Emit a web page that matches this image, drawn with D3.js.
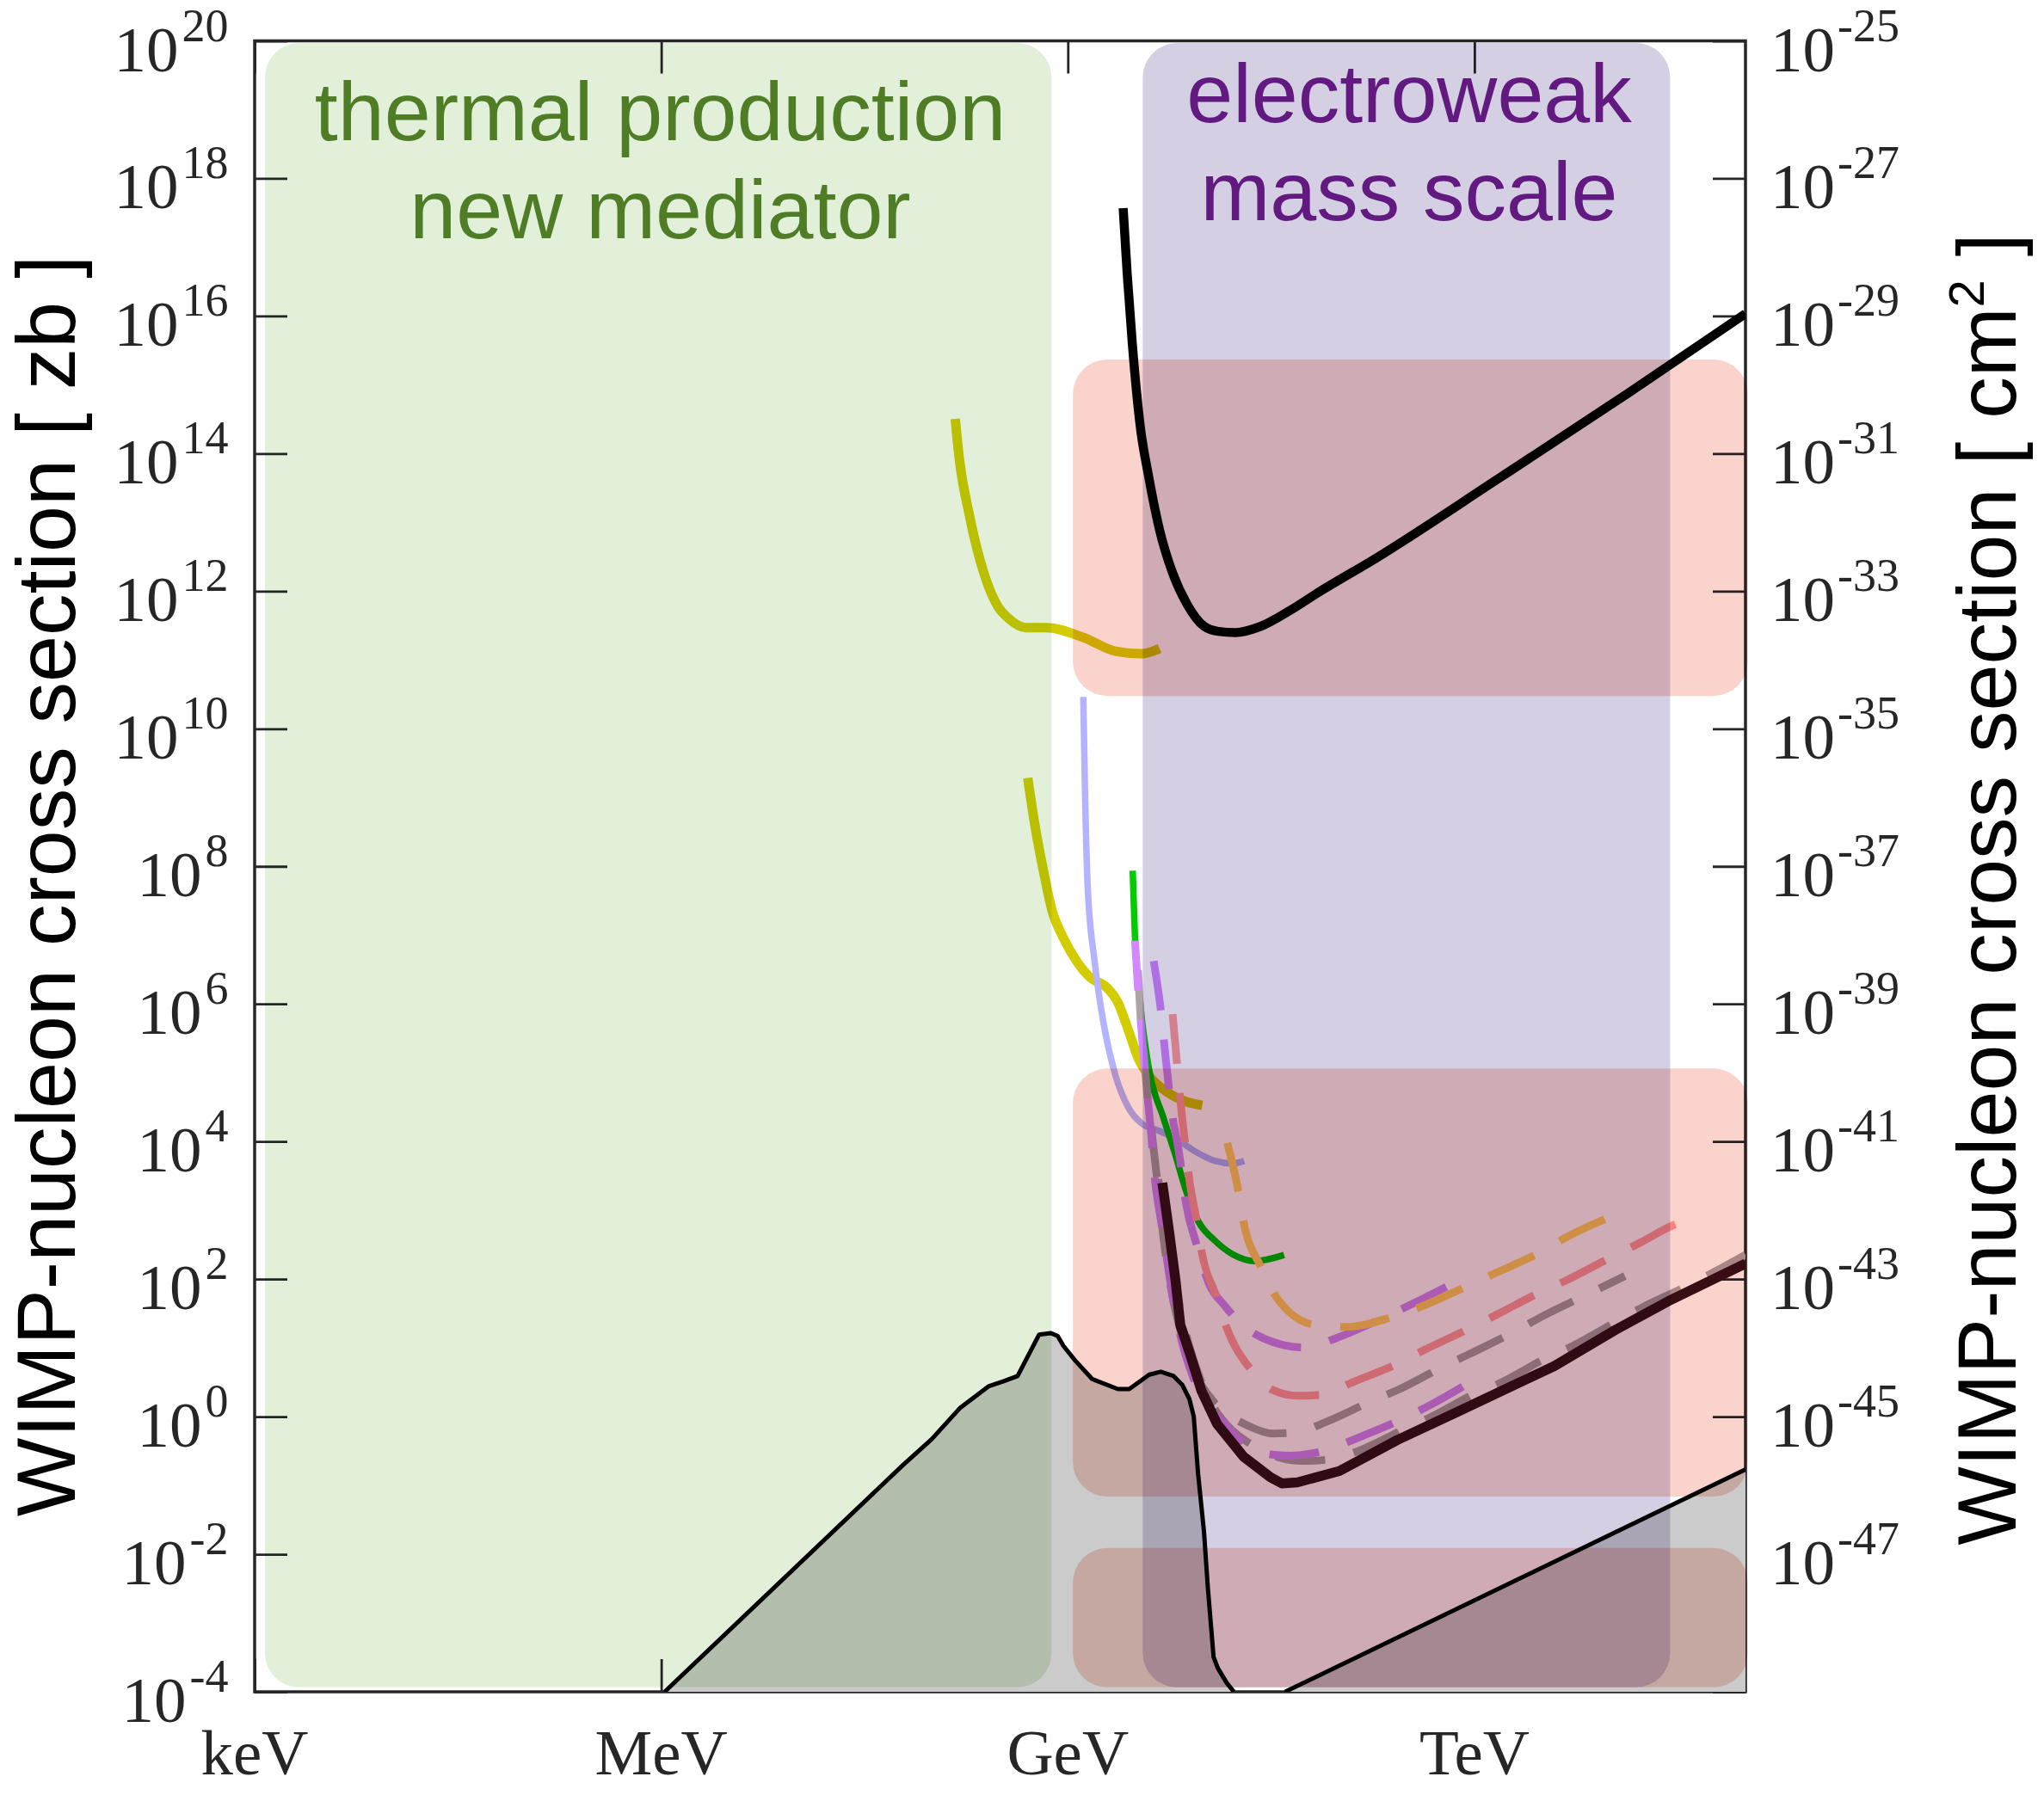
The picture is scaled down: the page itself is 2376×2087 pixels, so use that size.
<!DOCTYPE html>
<html>
<head>
<meta charset="utf-8">
<script src="https://cdn.jsdelivr.net/npm/d3@7"></script>
<style>
  html, body { margin: 0; padding: 0; background: #fff; }
  svg { display: block; }
</style>
</head>
<body>
<svg id="chart" width="2376" height="2087"></svg>
<script>
// ---------------- axes ----------------
const massDomain = [1e-6, 1e5];            // GeV (keV ... 100 TeV)
const sigmaDomainZb = [1e-4, 1e20];        // zeptobarn
const sigmaDomainCm = [1e-49, 1e-25];      // cm^2 (1 zb = 1e-45 cm^2)

const xTickValues = [1e-6, 1e-3, 1, 1e3];
const xTickLabels = ["keV", "MeV", "GeV", "TeV"];
const leftExponents = [20, 18, 16, 14, 12, 10, 8, 6, 4, 2, 0, -2, -4];
const rightExponents = [-25, -27, -29, -31, -33, -35, -37, -39, -41, -43, -45, -47];
const rightTickExponents = [-25, -27, -29, -31, -33, -35, -37, -39, -41, -43, -45, -47, -49];

// ---------------- shaded bands (mass in GeV, sigma in zb) ----------------
const bandSigma = [1.16e-4, 9.3e19];
const thermalMass = [1.19e-6, 0.757];
const electroweakMass = [3.57, 2.78e4];
const limitBandMass = [1.09, 1.04e5];
const limitBandSigma = [
  [3.0e10, 2.33e15],
  [0.069, 1.15e5],
  [1.16e-4, 0.0123]
];

const thermalText = ["thermal production", "new mediator"];
const electroweakText = ["electroweak", "mass scale"];

// ---------------- exclusion curves: [mass GeV, sigma zb] ----------------
const blackUpper = [
  [2.56, 3.7e17], [2.74, 4.2e16], [2.99, 4.0e15], [3.45, 2.2e14], [3.90, 5.3e13],
  [4.75, 7.8e12], [5.93, 1.84e12], [7.57, 6.5e11], [10.1, 3.1e11], [12.9, 2.6e11],
  [17.2, 2.5e11], [26.7, 3.1e11], [43.3, 5.2e11], [70.6, 9.6e11], [187, 3.0e12],
  [1497, 4.3e13], [1.37e4, 7.6e14], [1.0e5, 1.08e16]
];
const yellowUpper = [
  [0.1476, 3.2e14], [0.158, 8.6e13], [0.188, 1.26e13], [0.240, 1.84e12], [0.306, 5.9e11],
  [0.366, 4.0e11], [0.488, 2.95e11], [0.694, 2.95e11], [1.32, 2.1e11], [2.24, 1.34e11],
  [3.49, 1.23e11], [4.75, 1.47e11]
];
const yellowLower = [
  [0.506, 1.93e9], [0.570, 4.1e8], [0.659, 8.8e7], [0.764, 2.3e7], [0.927, 9.1e6],
  [1.18, 4.0e6], [1.47, 2.4e6], [1.92, 1.76e6], [2.34, 1.05e6], [2.84, 3.8e5],
  [3.29, 1.66e5], [3.99, 8.9e4], [5.36, 5.3e4], [7.16, 3.9e4], [9.82, 3.35e4]
];
const lightBlue = [
  [1.30, 2.9e10], [1.34, 1.15e9], [1.40, 5.3e7], [1.58, 4.0e6], [1.84, 5.1e5],
  [2.24, 9.3e4], [2.80, 3.1e4], [3.49, 1.84e4], [4.75, 1.42e4], [6.34, 1.09e4],
  [8.45, 7.4e3], [12.3, 5.2e3], [16.4, 4.8e3], [20.0, 5.2e3]
];
const greenSolid = [
  [3.01, 8.6e7], [3.13, 9.1e6], [3.45, 8.6e5], [3.98, 1.1e5], [5.08, 2.2e4],
  [6.20, 6.5e3], [7.52, 1.82e3], [9.14, 700], [12.2, 360], [16.4, 230],
  [24.1, 183], [39.4, 224]
];
const orangeDashed = [
  [15.0, 9.5e3], [18.0, 2.03e3], [19.8, 680], [26.6, 149], [33.4, 60.5],
  [43.4, 32.6], [66.2, 21.6], [111, 20.1], [252, 28.4], [410, 40.2],
  [897, 80], [1416, 121], [3000, 240], [4890, 417], [9680, 775]
];
const redDashed = [
  [5.93, 7.1e5], [6.34, 1.63e5], [6.77, 3.9e4], [7.25, 1.14e4], [7.82, 3.1e3],
  [8.95, 680], [9.68, 260], [12.6, 52.9], [14.8, 20.1], [22.6, 4.73],
  [33.4, 2.38], [49.4, 2.01], [75.4, 2.07], [125, 3.14], [269, 5.83],
  [430, 9.4], [927, 19.3], [1465, 30.5], [3090, 64.9], [4890, 98.3],
  [10300, 210], [16800, 340], [30800, 631], [36200, 698]
];
const purpleDashedA = [
  [4.30, 4.2e6], [4.85, 8.2e5], [5.31, 1.43e5], [5.89, 2.5e4], [6.63, 6.7e3],
  [7.40, 1.34e3], [9.03, 291], [11.0, 85.9], [14.4, 40.8], [20.0, 20.3],
  [27.9, 13.7], [38.9, 11.0], [56.7, 10.1], [94.2, 13.7], [204, 26.4],
  [325, 40.8], [690, 85.9]
];
const purpleDashedB = [
  [3.13, 8.3e6], [3.30, 1.58e6], [3.49, 4.3e5], [3.69, 1.15e5], [3.90, 3.9e4],
  [4.12, 1.3e4], [4.40, 2.7e3], [4.75, 946], [5.31, 234], [5.93, 55.5],
  [6.77, 15.0], [8.27, 4.04], [10.8, 1.36], [13.5, 0.917], [17.9, 0.497],
  [23.4, 0.351], [31.2, 0.282], [43.4, 0.270], [84.4, 0.336], [140, 0.497],
  [305, 0.957], [495, 1.55], [984, 3.40]
];
const mauveDashedA = [
  [3.29, 3.1e6], [3.45, 5.8e5], [3.65, 1.63e5], [3.89, 4.2e4], [4.15, 1.42e4],
  [4.57, 2.7e3], [5.08, 395], [5.81, 69], [6.93, 15.0], [8.83, 4.04],
  [11.8, 1.69], [16.1, 1.0], [21.4, 0.737], [32.6, 0.567], [49.6, 0.593],
  [80.7, 0.840], [175, 1.69], [279, 2.50], [604, 5.49], [962, 8.49],
  [2040, 17.8], [3180, 28.8], [6890, 60.5], [12900, 111]
];
const mauveDashedB = [
  [4.65, 2.82e3], [5.20, 612], [5.93, 133], [6.77, 35.9], [7.74, 12.0],
  [9.24, 4.04], [11.5, 1.55], [16.1, 0.646], [22.4, 0.400], [35.6, 0.258],
  [54.2, 0.227], [82.5, 0.237], [134, 0.308], [298, 0.646], [463, 0.957],
  [984, 2.10], [1566, 3.11], [3400, 7.13], [5280, 10.6], [11200, 24.2],
  [17500, 39.1], [37000, 78.7], [58900, 127], [1.0e5, 225]
];
const darkSolid = [
  [4.98, 2.5e3], [5.57, 514], [6.22, 98.3], [6.76, 21.6], [7.96, 8.24],
  [9.68, 2.38], [12.6, 0.79], [19.8, 0.262], [31.3, 0.131], [38.0, 0.107],
  [49.4, 0.111], [101, 0.162], [269, 0.456], [762, 1.19], [3890, 5.44],
  [10900, 18.1], [26700, 47.2], [1.0e5, 168]
];

// neutrino background floor
const floorLow = [
  [1.06e-3, 1e-4], [0.0608, 0.198], [0.0989, 0.470], [0.161, 1.35], [0.262, 2.78],
  [0.333, 3.26], [0.426, 3.89], [0.614, 15.6], [0.745, 16.4], [0.841, 14.9],
  [0.927, 10.7], [1.13, 6.59], [1.51, 3.53], [2.34, 2.52], [2.84, 2.52],
  [3.99, 4.08], [4.85, 4.49], [6.04, 3.89], [6.98, 2.91], [7.89, 1.80],
  [8.49, 1.01], [9.14, 0.149], [10.1, 0.0217], [10.8, 3.2e-3], [11.9, 3.2e-4],
  [12.8, 2.2e-4], [14.9, 1.34e-4], [16.8, 1.0e-4]
];
const floorHigh = [[40.1, 1e-4], [1.0e5, 0.171]];

// ---------------- layout ----------------
const W = 2376, H = 2087;
const plot = { left: 296, right: 2029, top: 47.5, bottom: 1967 };
const axisColor = "#262626";
const serif = "'Liberation Serif', 'Times New Roman', Times, serif";
const sans = "'Liberation Sans', Arial, Helvetica, sans-serif";

const svg = d3.select("#chart");
svg.append("rect").attr("width", W).attr("height", H).attr("fill", "#fff");

const x = d3.scaleLog().domain(massDomain).range([plot.left, plot.right]);
const y = d3.scaleLog().domain(sigmaDomainZb).range([plot.bottom, plot.top]);
const yCm = d3.scaleLog().domain(sigmaDomainCm).range([plot.bottom, plot.top]);

svg.append("defs").append("clipPath").attr("id", "plotClip")
  .append("rect")
  .attr("x", plot.left).attr("y", plot.top)
  .attr("width", plot.right - plot.left).attr("height", plot.bottom - plot.top);

// ---------------- frame and inward ticks ----------------
function tidy(g) {
  g.select(".domain").remove();
  g.selectAll(".tick text").remove();
  g.selectAll(".tick line").attr("stroke", axisColor).attr("stroke-width", 2.8);
}
const pow10 = e => Math.pow(10, e);
const axesG = svg.append("g");
axesG.append("g").attr("transform", `translate(${plot.left},0)`)
  .call(d3.axisLeft(y).tickValues(leftExponents.map(pow10)).tickSize(-38).tickFormat(() => ""))
  .call(tidy);
axesG.append("g").attr("transform", `translate(${plot.right},0)`)
  .call(d3.axisRight(yCm).tickValues(rightTickExponents.map(pow10)).tickSize(-38).tickFormat(() => ""))
  .call(tidy);
axesG.append("g").attr("transform", `translate(0,${plot.bottom})`)
  .call(d3.axisBottom(x).tickValues(xTickValues).tickSize(-38).tickFormat(() => ""))
  .call(tidy);
axesG.append("g").attr("transform", `translate(0,${plot.top})`)
  .call(d3.axisTop(x).tickValues(xTickValues).tickSize(-38).tickFormat(() => ""))
  .call(tidy);
axesG.append("rect")
  .attr("x", plot.left).attr("y", plot.top)
  .attr("width", plot.right - plot.left).attr("height", plot.bottom - plot.top)
  .attr("fill", "none").attr("stroke", axisColor).attr("stroke-width", 3.5);

// ---------------- curves ----------------
const smooth = d3.line().x(d => x(d[0])).y(d => y(d[1])).curve(d3.curveMonotoneX);
const straight = d3.line().x(d => x(d[0])).y(d => y(d[1]));

const curvesG = svg.append("g").attr("clip-path", "url(#plotClip)");
const dash = "58 34";
const colouredCurves = [
  { data: yellowUpper, color: "#d2cc00", width: 11 },
  { data: yellowLower, color: "#d2cc00", width: 11 },
  { data: lightBlue, color: "#b3b3ff", width: 7.5 },
  { data: greenSolid, color: "#00cc00", width: 7.5 },
  { data: mauveDashedA, color: "#aca2a8", width: 9, dash },
  { data: mauveDashedB, color: "#aca2a8", width: 9, dash },
  { data: purpleDashedB, color: "#d488ff", width: 9, dash },
  { data: purpleDashedA, color: "#d488ff", width: 9, dash },
  { data: redDashed, color: "#ff9ca0", width: 9, dash },
  { data: orangeDashed, color: "#ffd460", width: 9, dash }
];
colouredCurves.forEach(c => {
  curvesG.append("path")
    .attr("d", smooth(c.data))
    .attr("fill", "none")
    .attr("stroke", c.color)
    .attr("stroke-width", c.width)
    .attr("stroke-dasharray", c.dash || null)
    .attr("stroke-linejoin", "round");
});
curvesG.append("path")
  .attr("d", straight(darkSolid))
  .attr("fill", "none").attr("stroke", "#3a0f19")
  .attr("stroke-width", 11.5).attr("stroke-linejoin", "round");

// ---------------- neutrino floor shading ----------------
const shadeG = svg.append("g").attr("clip-path", "url(#plotClip)");
const area = d3.area().x(d => x(d[0])).y0(y(sigmaDomainZb[0])).y1(d => y(d[1]));
shadeG.append("path").attr("d", area(floorLow))
  .attr("fill", "#cbcbcb").style("mix-blend-mode", "multiply");
shadeG.append("path").attr("d", area(floorHigh))
  .attr("fill", "#cbcbcb").style("mix-blend-mode", "multiply");

// ---------------- translucent bands ----------------
const bandsG = svg.append("g");
function band(m, s, color) {
  bandsG.append("rect")
    .attr("x", x(m[0])).attr("width", x(m[1]) - x(m[0]))
    .attr("y", y(s[1])).attr("height", y(s[0]) - y(s[1]))
    .attr("rx", 40).attr("ry", 40)
    .attr("fill", color)
    .style("mix-blend-mode", "multiply");
}
band(thermalMass, bandSigma, "#e2efd9");
band(electroweakMass, bandSigma, "#d4cfe3");
limitBandSigma.forEach(s => band(limitBandMass, s, "#f9d3cc"));

// ---------------- black curves on top ----------------
const topG = svg.append("g").attr("clip-path", "url(#plotClip)");
topG.append("path").attr("d", smooth(blackUpper))
  .attr("fill", "none").attr("stroke", "#000")
  .attr("stroke-width", 10.5).attr("stroke-linejoin", "round");
topG.append("path").attr("d", straight(floorLow))
  .attr("fill", "none").attr("stroke", "#000")
  .attr("stroke-width", 5).attr("stroke-linejoin", "round");
topG.append("path").attr("d", straight(floorHigh))
  .attr("fill", "none").attr("stroke", "#000")
  .attr("stroke-width", 5);

// ---------------- band captions ----------------
const captions = [
  { lines: thermalText, cx: 767.5, base: 163, color: "#4e7d26" },
  { lines: electroweakText, cx: 1638, base: 142, color: "#621a80" }
];
captions.forEach(c => {
  c.lines.forEach((t, i) => {
    svg.append("text")
      .attr("x", c.cx).attr("y", c.base + i * 114)
      .attr("text-anchor", "middle")
      .attr("font-family", sans).attr("font-size", 97)
      .attr("fill", c.color)
      .text(t);
  });
});

// ---------------- tick labels ----------------
const labelsG = svg.append("g").attr("font-family", serif).attr("fill", axisColor);
leftExponents.forEach(e => {
  const t = labelsG.append("text")
    .attr("x", 265.5).attr("y", y(pow10(e)) + 35)
    .attr("text-anchor", "end").attr("font-size", 75);
  t.append("tspan").text("10");
  t.append("tspan").attr("dx", 4).attr("dy", -35).attr("font-size", 54).text(String(e));
});
rightExponents.forEach(e => {
  const t = labelsG.append("text")
    .attr("x", 2058).attr("y", yCm(pow10(e)) + 35)
    .attr("text-anchor", "start").attr("font-size", 75);
  t.append("tspan").text("10");
  t.append("tspan").attr("dx", 3).attr("dy", -35).attr("font-size", 54).text(String(e));
});
xTickValues.forEach((v, i) => {
  labelsG.append("text")
    .attr("x", x(v)).attr("y", 2063)
    .attr("text-anchor", "middle").attr("font-size", 75)
    .text(xTickLabels[i]);
});

// ---------------- axis titles ----------------
svg.append("text")
  .attr("transform", "translate(87,1030) rotate(-90)")
  .attr("text-anchor", "middle")
  .attr("font-family", sans).attr("font-size", 97).attr("fill", "#000")
  .text("WIMP-nucleon cross section [ zb ]");
const rt = svg.append("text")
  .attr("transform", "translate(2343,1034) rotate(-90)")
  .attr("text-anchor", "middle")
  .attr("font-family", sans).attr("font-size", 97).attr("fill", "#000");
rt.append("tspan").text("WIMP-nucleon cross section [ cm");
rt.append("tspan").attr("dy", -37).attr("font-size", 58).text("2");
rt.append("tspan").attr("dy", 37).text(" ]");
</script>
</body>
</html>
